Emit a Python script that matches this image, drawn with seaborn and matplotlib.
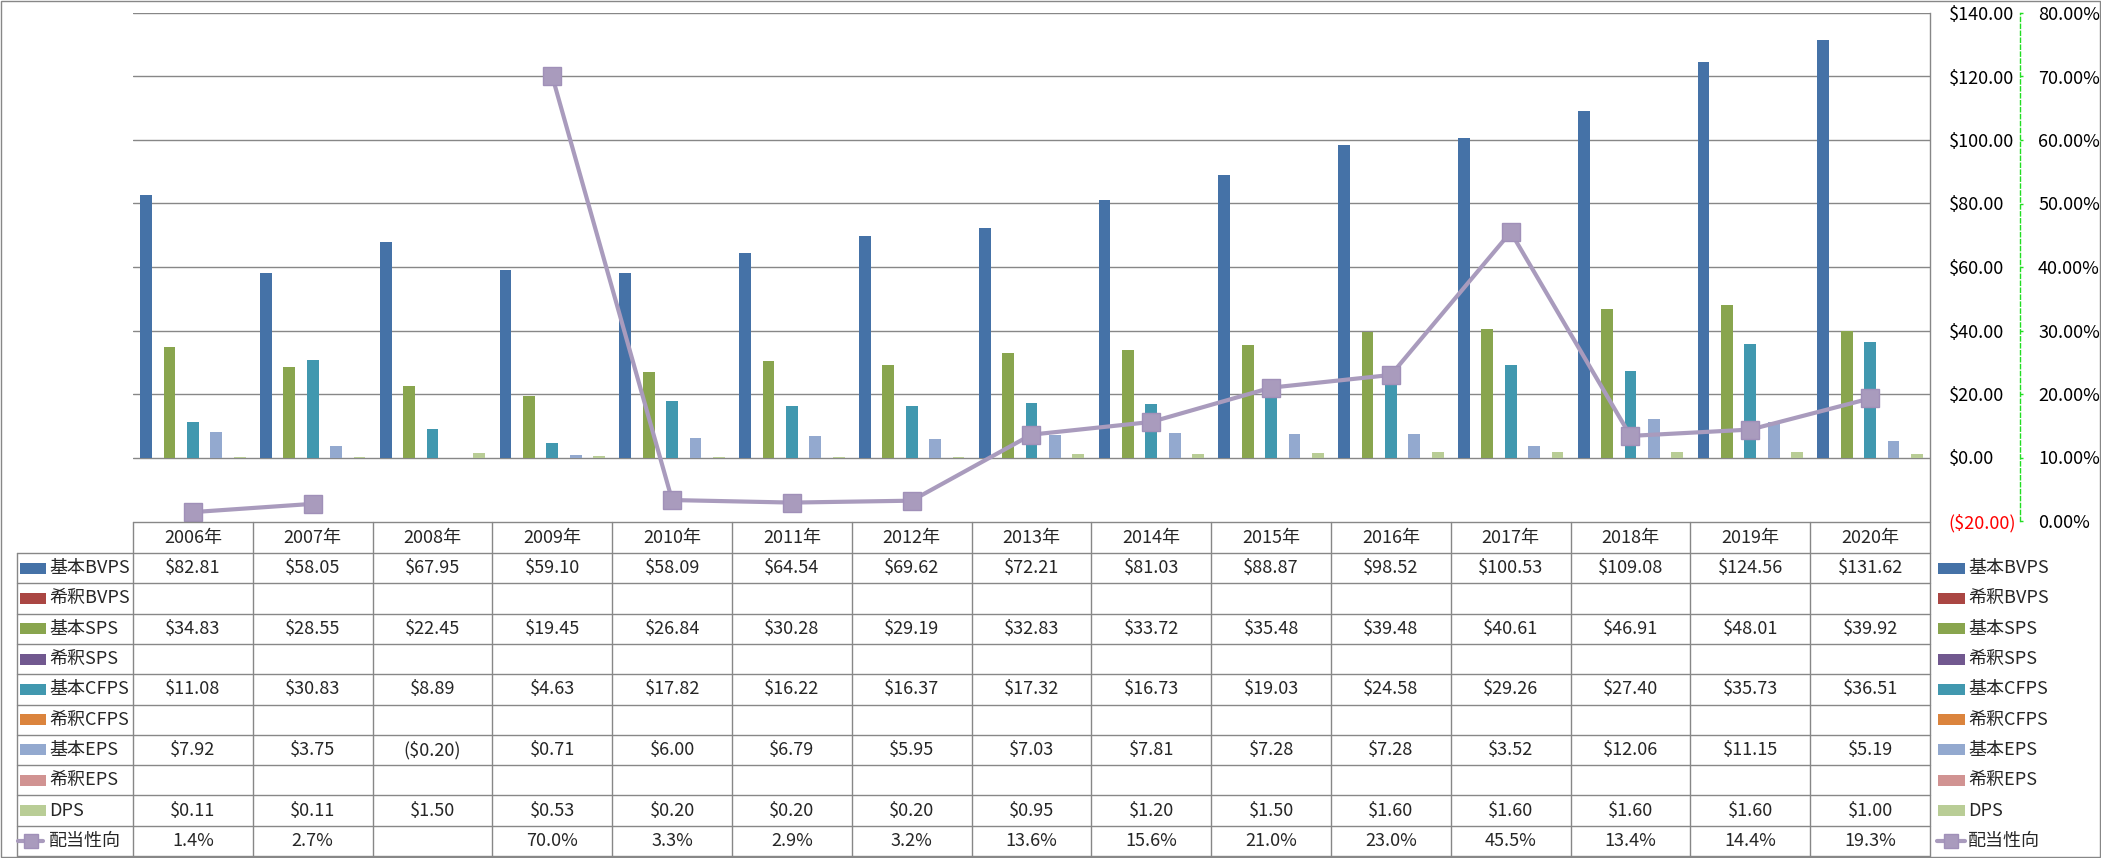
import numpy as np
import pandas as pd
import matplotlib
matplotlib.use("Agg")
import matplotlib.pyplot as plt
from matplotlib.patches import Rectangle
from matplotlib.lines import Line2D
import seaborn as sns

# ---------------- data ----------------
years = ["2006年", "2007年", "2008年", "2009年", "2010年", "2011年", "2012年", "2013年",
         "2014年", "2015年", "2016年", "2017年", "2018年", "2019年", "2020年"]
series_names = ["基本BVPS", "希釈BVPS", "基本SPS", "希釈SPS", "基本CFPS",
                "希釈CFPS", "基本EPS", "希釈EPS", "DPS"]
bvps = [82.81, 58.05, 67.95, 59.10, 58.09, 64.54, 69.62, 72.21, 81.03, 88.87, 98.52, 100.53, 109.08, 124.56, 131.62]
dil_bvps = [None] * 15
sps = [34.83, 28.55, 22.45, 19.45, 26.84, 30.28, 29.19, 32.83, 33.72, 35.48, 39.48, 40.61, 46.91, 48.01, 39.92]
dil_sps = [None] * 15
cfps = [11.08, 30.83, 8.89, 4.63, 17.82, 16.22, 16.37, 17.32, 16.73, 19.03, 24.58, 29.26, 27.40, 35.73, 36.51]
dil_cfps = [None] * 15
eps = [7.92, 3.75, -0.20, 0.71, 6.00, 6.79, 5.95, 7.03, 7.81, 7.28, 7.28, 3.52, 12.06, 11.15, 5.19]
dil_eps = [None] * 15
dps = [0.11, 0.11, 1.50, 0.53, 0.20, 0.20, 0.20, 0.95, 1.20, 1.50, 1.60, 1.60, 1.60, 1.60, 1.00]
payout_name = "配当性向"
payout = [1.4, 2.7, None, 70.0, 3.3, 2.9, 3.2, 13.6, 15.6, 21.0, 23.0, 45.5, 13.4, 14.4, 19.3]

series_values = [bvps, dil_bvps, sps, dil_sps, cfps, dil_cfps, eps, dil_eps, dps]
colors = ["#4572A7", "#AA4643", "#89A54E", "#71588F", "#4198AF",
          "#DB843D", "#93A9CF", "#D19392", "#B9CD96"]
line_color = "#A99BBD"

left_ticks = [-20, 0, 20, 40, 60, 80, 100, 120, 140]
right_ticks = [0, 10, 20, 30, 40, 50, 60, 70, 80]

# ---------------- style ----------------
sns.set_style("white")
plt.rcParams["font.family"] = ["Noto Sans CJK JP", "DejaVu Sans"]
FS = 13
GRID = "#878787"

W, H = 2101, 858
fig = plt.figure(figsize=(W / 100, H / 100), dpi=100)

# plot area in pixels
PL, PR, PT, PB = 133, 1930, 13, 521
ax = fig.add_axes([PL / W, 1 - PB / H, (PR - PL) / W, (PB - PT) / H])

rows = []
for name, vals in zip(series_names, series_values):
    for y, v in zip(years, vals):
        rows.append({"year": y, "series": name, "value": np.nan if v is None else v})
df = pd.DataFrame(rows)

sns.barplot(data=df, x="year", y="value", hue="series", order=years,
            hue_order=series_names, palette=dict(zip(series_names, colors)),
            width=0.88, gap=0, errorbar=None, saturation=1, linewidth=0,
            legend=False, ax=ax)
ax.set_xlim(-0.5, len(years) - 0.5)
ax.set_ylim(-20, 140)
ax.set_xlabel("")
ax.set_ylabel("")
ax.tick_params(axis="x", bottom=False, labelbottom=False)
for t in left_ticks[1:]:
    ax.axhline(t, color=GRID, lw=1.0, zorder=0)
ax.set_axisbelow(True)
for s in ["left", "top", "bottom"]:
    ax.spines[s].set_visible(False)
ax.spines["right"].set_color(GRID)
ax.spines["right"].set_linewidth(1.0)

# secondary axis
ax2 = ax.twinx()
ax2.set_ylim(0, 80)
x_idx = np.arange(len(years))
pay = np.array([np.nan if v is None else v for v in payout], dtype=float)
ax2.plot(x_idx, pay, color=line_color, lw=3.0, marker="s", markersize=12.5,
         markerfacecolor=line_color, markeredgecolor="#A090B8", markeredgewidth=1,
         solid_joinstyle="round", zorder=5)
ax2.set_yticks(right_ticks, ["%.2f%%" % t for t in right_ticks])
for s in ["left", "top", "bottom"]:
    ax2.spines[s].set_visible(False)
ax2.spines["right"].set_position(("axes", (2020 - PL) / (PR - PL)))
ax2.spines["right"].set_color("#22DD22")
ax2.spines["right"].set_linestyle((0, (3, 2)))
ax2.spines["right"].set_linewidth(1.0)
ax2.tick_params(axis="y", colors="#22DD22", labelcolor="black", length=2.5, width=1,
                pad=10.5, labelsize=FS)
ax2.set_ylabel("")

# primary axis labels on the right (after twinx, which resets them)
ax.yaxis.set_ticks_position("right")
ax.set_yticks(left_ticks,
              [("($%.2f)" % abs(t)) if t < 0 else ("$%.2f" % t) for t in left_ticks])
ax.tick_params(axis="y", length=0, pad=13.5, labelsize=FS, labelright=True, labelleft=False)
for tk, t in zip(ax.yaxis.get_major_ticks(), left_ticks):
    tk.label2.set_color("red" if t < 0 else "black")
    tk.label2.set_fontsize(FS)

# ---------------- table overlay ----------------
ov = fig.add_axes([0, 0, 1, 1], zorder=10)
ov.set_xlim(0, W)
ov.set_ylim(H, 0)
ov.axis("off")
ov.patch.set_alpha(0)

ncol = len(years)
cw = (PR - PL) / ncol
HT, HB = 522, 553
BOT = 856
nrows = len(series_names) + 1
rh = (BOT - HB) / nrows
LL = 17
LW = 1.0

ov.plot([PL, PR], [HT, HT], color=GRID, lw=LW)
for r in range(nrows + 1):
    y = HB + r * rh
    ov.plot([LL, PR], [y, y], color=GRID, lw=LW)
ov.plot([LL, LL], [HB, BOT], color=GRID, lw=LW)
for c in range(ncol + 1):
    x = PL + c * cw
    ov.plot([x, x], [HT, BOT], color=GRID, lw=LW)

def money(v):
    if v is None:
        return ""
    return ("($%.2f)" % abs(v)) if v < 0 else ("$%.2f" % v)

for c, yl in enumerate(years):
    ov.text(PL + (c + 0.5) * cw, (HT + HB) / 2, yl, ha="center", va="center", fontsize=FS)

all_rows = list(zip(series_names, series_values))
for r, (name, vals) in enumerate(all_rows):
    yc = HB + (r + 0.5) * rh
    for c, v in enumerate(vals):
        ov.text(PL + (c + 0.5) * cw, yc, money(v), ha="center", va="center", fontsize=FS)
    ov.add_patch(Rectangle((20, yc - 5.5), 26, 11, color=colors[r], lw=0))
    ov.text(49, yc, name, ha="left", va="center", fontsize=FS)
    ov.add_patch(Rectangle((1938, yc - 5.5), 27, 11, color=colors[r], lw=0))
    ov.text(1968, yc, name, ha="left", va="center", fontsize=FS)

yc = HB + (nrows - 0.5) * rh
for c, v in enumerate(payout):
    ov.text(PL + (c + 0.5) * cw, yc, "" if v is None else "%.1f%%" % v,
            ha="center", va="center", fontsize=FS)
for xa, xb in [(18, 43), (1937, 1965)]:
    ov.add_line(Line2D([xa, xb], [yc, yc], color=line_color, lw=3.0))
    ov.add_line(Line2D([(xa + xb) / 2], [yc], color=line_color, marker="s", markersize=9.5,
                       markeredgecolor="#A090B8", markeredgewidth=1))
ov.text(49, yc, payout_name, ha="left", va="center", fontsize=FS)
ov.text(1968, yc, payout_name, ha="left", va="center", fontsize=FS)

ov.add_patch(Rectangle((0.5, 0.5), W - 1.5, H - 1.5, fill=False, edgecolor=GRID, lw=1.0))

fig.savefig("out.png", dpi=100)
